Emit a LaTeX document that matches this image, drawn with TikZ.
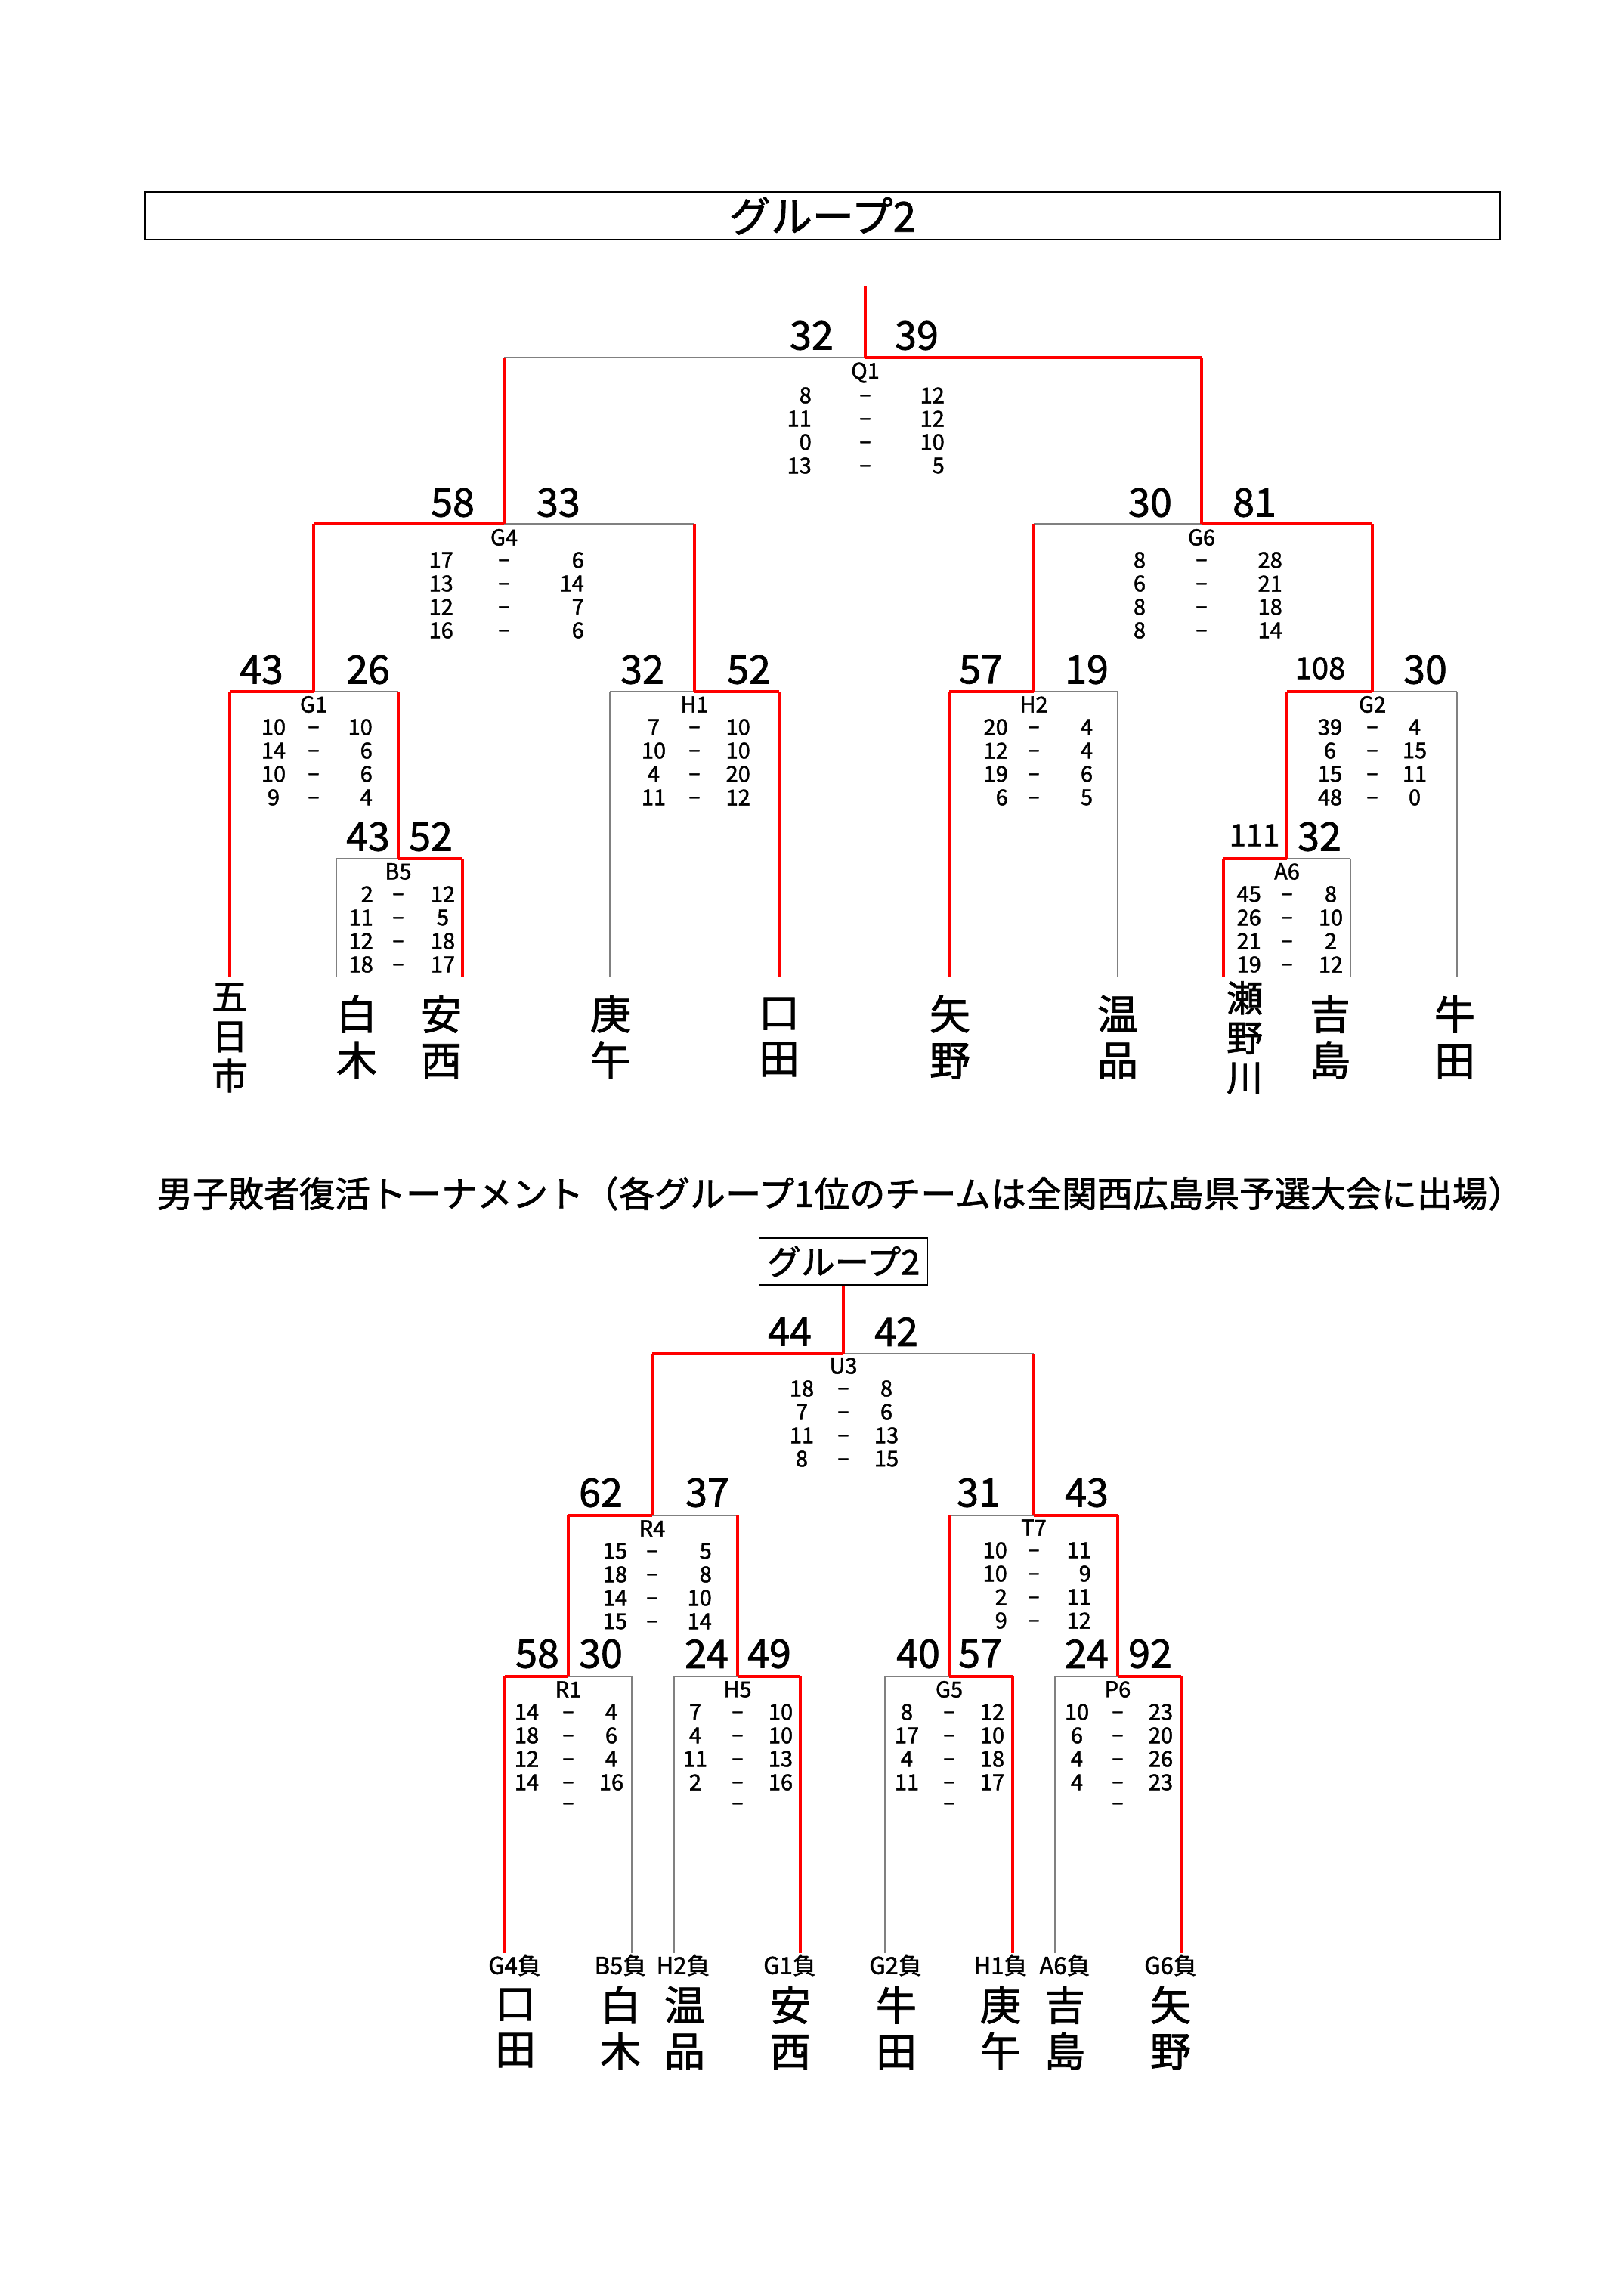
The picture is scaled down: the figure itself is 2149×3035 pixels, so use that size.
\documentclass[tikz,border=0pt]{standalone}
\usepackage{fontspec}
\setmainfont{Noto Sans CJK JP}[FakeBold=1.5]
\tikzset{
  win/.style={draw=red, line width=4pt, line cap=square},
  lose/.style={draw=black!50, line width=1.2pt},
  big/.style={font=\fontsize{52}{52}\selectfont, inner sep=0pt},
  mid/.style={font=\fontsize{40}{40}\selectfont, inner sep=0pt},
  sm/.style={font=\fontsize{29}{29}\selectfont, inner sep=0pt},
  team/.style={font=\fontsize{54}{61}\selectfont, align=center, inner sep=0pt},
  teamthree/.style={font=\fontsize{48}{52.5}\selectfont, align=center, inner sep=0pt},
  loss/.style={font=\fontsize{31}{31}\selectfont, inner sep=0pt},
}
\newcommand\hwin[2]{\draw[win] (#1) -- (#2 |- #1);}
\newcommand\hlose[2]{\draw[lose] (#1) -- (#2 |- #1);}
\newcommand\vwin[2]{\draw[win] (#2 |- #1) -- (#2);}
\newcommand\vlose[2]{\draw[lose] (#2 |- #1) -- (#2);}
% #1 name, #2 cx, #3 ylabel, #4 label, #5 xl, #6 anchor l, #7 xr, #8 anchor r, #9 rows
\newcommand\tbl[9]{%
  \node[sm] (#1lab) at (#2,#3) {#4};
  \foreach \a/\b [count=\i] in {#9} {
    \node[sm, anchor=#6] (#1l\i) at (#5, #3+30+31*\i-31) {\a};
    \node[sm, anchor=base] (#1d\i) at (#2, #3+30+31*\i-31+8.5) {–};
    \node[sm, anchor=#8] (#1r\i) at (#7, #3+30+31*\i-31) {\b};
  }}
\begin{document}
\begin{tikzpicture}[x=1pt,y=-1pt]
\useasboundingbox (0,0) rectangle (2149,3035);

% ================= Part 1 =================
\node[draw=black, line width=1.5pt, minimum width=1793pt, minimum height=63pt, inner sep=0pt,
      font=\fontsize{55}{55}\selectfont] (title1) at (1088.5,285.5) {グループ2};

\coordinate (root1) at (1145,379);
\coordinate (Q1) at (1145,473);
\coordinate (G4) at (667,693);
\coordinate (G6) at (1590,693);
\coordinate (G1) at (415,915);
\coordinate (H1) at (919,915);
\coordinate (H2) at (1368,915);
\coordinate (G2) at (1816,915);
\coordinate (B5) at (527,1136);
\coordinate (A6) at (1703,1136);
\coordinate (L1) at (304,1292);
\coordinate (L2) at (445,1292);
\coordinate (L3) at (612,1292);
\coordinate (L4) at (807,1292);
\coordinate (L5) at (1031,1292);
\coordinate (L6) at (1256,1292);
\coordinate (L7) at (1479,1292);
\coordinate (L8) at (1619,1292);
\coordinate (L9) at (1787,1292);
\coordinate (L10) at (1928,1292);

% losing lines
\hlose{Q1}{G4}
\hlose{G4}{H1}
\hlose{G6}{H2}
\hlose{G1}{B5}
\hlose{B5}{L2} \vlose{B5}{L2}
\hlose{H1}{L4} \vlose{H1}{L4}
\hlose{H2}{L7} \vlose{H2}{L7}
\hlose{G2}{L10} \vlose{G2}{L10}
\hlose{A6}{L9} \vlose{A6}{L9}
% winning lines
\draw[win] (root1) -- (Q1);
\hwin{Q1}{G6} \vwin{Q1}{G4} \vwin{Q1}{G6}
\hwin{G4}{G1} \vwin{G4}{G1} \vwin{G4}{H1}
\hwin{G6}{G2} \vwin{G6}{H2} \vwin{G6}{G2}
\hwin{G1}{L1} \vwin{G1}{L1} \vwin{G1}{B5}
\hwin{B5}{L3} \vwin{B5}{L3}
\hwin{H1}{L5} \vwin{H1}{L5}
\hwin{H2}{L6} \vwin{H2}{L6}
\hwin{G2}{A6} \vwin{G2}{A6}
\hwin{A6}{L8} \vwin{A6}{L8}

% big scores
\node[big] (sq1a) at (1074,444) {32};
\node[big] (sq1b) at (1213,444) {39};
\node[big] (sg4a) at (599,665) {58};
\node[big] (sg4b) at (739,665) {33};
\node[big] (sg6a) at (1522,665) {30};
\node[big] (sg6b) at (1660,665) {81};
\node[big] (sg1a) at (346,886) {43};
\node[big] (sg1b) at (487,886) {26};
\node[big] (sh1a) at (850,886) {32};
\node[big] (sh1b) at (991,886) {52};
\node[big] (sh2a) at (1298,886) {57};
\node[big] (sh2b) at (1438,886) {19};
\node[mid] (sg2a) at (1747,884) {108};
\node[big] (sg2b) at (1886,886) {30};
\node[big] (sb5a) at (487,1107) {43};
\node[big] (sb5b) at (570,1107) {52};
\node[mid] (sa6a) at (1660,1105) {111};
\node[big] (sa6b) at (1746,1107) {32};

% score tables
\tbl{q1}{1145}{493}{Q1}{1074}{east}{1250}{east}{8/12,11/12,0/10,13/5}
\tbl{g4}{667}{711}{G4}{600}{east}{773}{east}{17/6,13/14,12/7,16/6}
\tbl{g6}{1590}{711}{G6}{1508}{center}{1697}{east}{8/28,6/21,8/18,8/14}
\tbl{g1}{415}{932}{G1}{362}{center}{493}{east}{10/10,14/6,10/6,9/4}
\tbl{h1}{919}{932}{H1}{865}{center}{993}{east}{7/10,10/10,4/20,11/12}
\tbl{h2}{1368}{932}{H2}{1334}{east}{1438}{center}{20/4,12/4,19/6,6/5}
\tbl{g2}{1816}{932}{G2}{1760}{center}{1872}{center}{39/4,6/15,15/11,48/0}
\tbl{b5}{527}{1153}{B5}{494}{east}{586}{center}{2/12,11/5,12/18,18/17}
\tbl{a6}{1703}{1153}{A6}{1669}{east}{1761}{center}{45/8,26/10,21/2,19/12}

% team names
\node[teamthree] (n1) at (304,1373) {五\\日\\市};
\node[team] (n2) at (472,1372) {白\\木};
\node[team] (n3) at (584,1372) {安\\西};
\node[team] (n4) at (808,1372) {庚\\午};
\node[team] (n5) at (1031,1372) {口\\田};
\node[team] (n6) at (1257,1372) {矢\\野};
\node[team] (n7) at (1479,1372) {温\\品};
\node[teamthree] (n8) at (1647,1373) {瀬\\野\\川};
\node[team] (n9) at (1760,1372) {吉\\島};
\node[team] (n10) at (1925,1372) {牛\\田};

% ================= Part 2 =================
\node[inner sep=0pt, font=\fontsize{47}{47}\selectfont] (sub) at (1112,1579)
  {男子敗者復活トーナメント（各グループ1位のチームは全関西広島県予選大会に出場）};
\node[draw=black, line width=1.2pt, minimum width=223pt, minimum height=62pt, inner sep=0pt,
      font=\fontsize{45}{45}\selectfont] (box2) at (1116,1669) {グループ2};

\coordinate (U3) at (1116,1791);
\coordinate (R4) at (863,2005);
\coordinate (T7) at (1368,2005);
\coordinate (R1) at (752,2218);
\coordinate (H5) at (976,2218);
\coordinate (G5) at (1256,2218);
\coordinate (P6) at (1479,2218);
\coordinate (M1) at (668,2584);
\coordinate (M2) at (836,2584);
\coordinate (M3) at (892,2584);
\coordinate (M4) at (1059,2584);
\coordinate (M5) at (1171,2584);
\coordinate (M6) at (1340,2584);
\coordinate (M7) at (1396,2584);
\coordinate (M8) at (1563,2584);

\hlose{U3}{T7}
\hlose{R4}{H5}
\hlose{T7}{G5}
\hlose{R1}{M2} \vlose{R1}{M2}
\hlose{H5}{M3} \vlose{H5}{M3}
\hlose{G5}{M5} \vlose{G5}{M5}
\hlose{P6}{M7} \vlose{P6}{M7}

\draw[win] (box2.south) -- (U3);
\hwin{U3}{R4} \vwin{U3}{R4} \vwin{U3}{T7}
\hwin{R4}{R1} \vwin{R4}{R1} \vwin{R4}{H5}
\hwin{T7}{P6} \vwin{T7}{G5} \vwin{T7}{P6}
\hwin{R1}{M1} \vwin{R1}{M1}
\hwin{H5}{M4} \vwin{H5}{M4}
\hwin{G5}{M6} \vwin{G5}{M6}
\hwin{P6}{M8} \vwin{P6}{M8}

\node[big] (su3a) at (1045,1762) {44};
\node[big] (su3b) at (1186,1762) {42};
\node[big] (sr4a) at (795,1975) {62};
\node[big] (sr4b) at (936,1975) {37};
\node[big] (st7a) at (1295,1975) {31};
\node[big] (st7b) at (1438,1975) {43};
\node[big] (sr1a) at (711,2188) {58};
\node[big] (sr1b) at (795,2188) {30};
\node[big] (sh5a) at (935,2188) {24};
\node[big] (sh5b) at (1018,2188) {49};
\node[big] (sg5a) at (1215,2188) {40};
\node[big] (sg5b) at (1297,2188) {57};
\node[big] (sp6a) at (1438,2188) {24};
\node[big] (sp6b) at (1522,2188) {92};

\tbl{u3}{1116}{1807}{U3}{1061}{center}{1173}{center}{18/8,7/6,11/13,8/15}
\tbl{r4}{863}{2022}{R4}{814}{center}{942}{east}{15/5,18/8,14/10,15/14}
\tbl{t7}{1368}{2021}{T7}{1333}{east}{1444}{east}{10/11,10/9,2/11,9/12}
\tbl{r1}{752}{2235}{R1}{697}{center}{809}{center}{14/4,18/6,12/4,14/16}
\tbl{h5}{976}{2235}{H5}{920}{center}{1033}{center}{7/10,4/10,11/13,2/16}
\tbl{g5}{1256}{2235}{G5}{1200}{center}{1313}{center}{8/12,17/10,4/18,11/17}
\tbl{p6}{1479}{2235}{P6}{1425}{center}{1536}{center}{10/23,6/20,4/26,4/23}
\node[sm, anchor=base] (r1d5) at (752,2394.5) {–};
\node[sm, anchor=base] (h5d5) at (976,2394.5) {–};
\node[sm, anchor=base] (g5d5) at (1256,2394.5) {–};
\node[sm, anchor=base] (p6d5) at (1479,2394.5) {–};

\node[loss] (f1) at (681,2600) {G4負};
\node[loss] (f2) at (821,2600) {B5負};
\node[loss] (f3) at (904,2600) {H2負};
\node[loss] (f4) at (1045,2600) {G1負};
\node[loss] (f5) at (1185,2600) {G2負};
\node[loss] (f6) at (1324,2600) {H1負};
\node[loss] (f7) at (1409,2600) {A6負};
\node[loss] (f8) at (1549,2600) {G6負};

\node[team] (m1) at (682,2683) {口\\田};
\node[team] (m2) at (821,2683) {白\\木};
\node[team] (m3) at (906,2683) {温\\品};
\node[team] (m4) at (1046,2683) {安\\西};
\node[team] (m5) at (1186,2683) {牛\\田};
\node[team] (m6) at (1324,2683) {庚\\午};
\node[team] (m7) at (1409,2683) {吉\\島};
\node[team] (m8) at (1549,2683) {矢\\野};
\end{tikzpicture}
\end{document}
